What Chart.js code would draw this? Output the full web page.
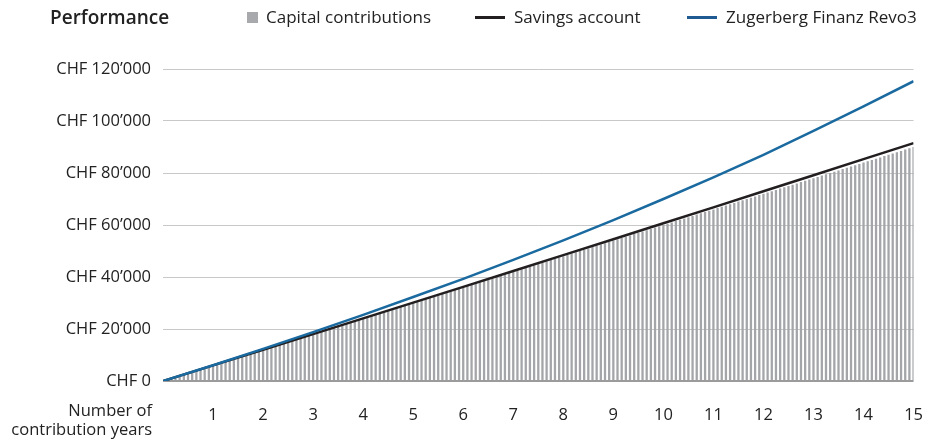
<!DOCTYPE html>
<html>
<head>
<meta charset="utf-8">
<script src="https://cdn.jsdelivr.net/npm/chart.js@4/dist/chart.umd.min.js"></script>
<style>
  html, body { margin: 0; padding: 0; background: #fff; }
  #wrap { position: relative; width: 939px; height: 440px; font-family: "Open Sans", sans-serif; color: #222; }
  #chart { position: absolute; left: 0; top: 0; }
  .hdr { position: absolute; top: 4px; font-size: 17px; white-space: nowrap; line-height: 26px; }
  .title { left: 50px; font-size: 19px; font-weight: 600; color: #222; }
  .sw { position: absolute; }
  .xtitle { position: absolute; right: 787px; top: 400px; text-align: right; font-size: 16.5px; line-height: 19px; white-space: nowrap; }
</style>
</head>
<body>
<div id="wrap">
  <canvas id="chart" width="939" height="440"></canvas>
  <div class="hdr title">Performance</div>
  <div class="sw" style="left:247px;top:12px;width:11px;height:11px;background:#a7a9ac"></div>
  <div class="hdr" style="left:266px">Capital contributions</div>
  <div class="sw" style="left:475px;top:16px;width:30px;height:3px;background:#231f20"></div>
  <div class="hdr" style="left:514px">Savings account</div>
  <div class="sw" style="left:687px;top:16px;width:30px;height:3px;background:#1f5a93"></div>
  <div class="hdr" style="left:726px">Zugerberg Finanz Revo3</div>
  <div class="xtitle">Number of<br>contribution years</div>
</div>
<script>
// Chart data (CHF)
const years = [0, 1, 2, 3, 4, 5, 6, 7, 8, 9, 10, 11, 12, 13, 14, 15];
const xTickLabels = ['1', '2', '3', '4', '5', '6', '7', '8', '9', '10', '11', '12', '13', '14', '15'];
const yTicks = [0, 20000, 40000, 60000, 80000, 100000, 120000];

// monthly capital contributions, one bar per month
const contributions = [
    500, 1000, 1500, 2000, 2500, 3000, 3500, 4000, 4500, 5000, 5500, 6000,
    6500, 7000, 7500, 8000, 8500, 9000, 9500, 10000, 10500, 11000, 11500, 12000,
    12500, 13000, 13500, 14000, 14500, 15000, 15500, 16000, 16500, 17000, 17500, 18000,
    18500, 19000, 19500, 20000, 20500, 21000, 21500, 22000, 22500, 23000, 23500, 24000,
    24500, 25000, 25500, 26000, 26500, 27000, 27500, 28000, 28500, 29000, 29500, 30000,
    30500, 31000, 31500, 32000, 32500, 33000, 33500, 34000, 34500, 35000, 35500, 36000,
    36500, 37000, 37500, 38000, 38500, 39000, 39500, 40000, 40500, 41000, 41500, 42000,
    42500, 43000, 43500, 44000, 44500, 45000, 45500, 46000, 46500, 47000, 47500, 48000,
    48500, 49000, 49500, 50000, 50500, 51000, 51500, 52000, 52500, 53000, 53500, 54000,
    54500, 55000, 55500, 56000, 56500, 57000, 57500, 58000, 58500, 59000, 59500, 60000,
    60500, 61000, 61500, 62000, 62500, 63000, 63500, 64000, 64500, 65000, 65500, 66000,
    66500, 67000, 67500, 68000, 68500, 69000, 69500, 70000, 70500, 71000, 71500, 72000,
    72500, 73000, 73500, 74000, 74500, 75000, 75500, 76000, 76500, 77000, 77500, 78000,
    78500, 79000, 79500, 80000, 80500, 81000, 81500, 82000, 82500, 83000, 83500, 84000,
    84500, 85000, 85500, 86000, 86500, 87000, 87500, 88000, 88500, 89000, 89500, 90000
];

const savingsAccount = [0, 6000, 12020, 18050, 24100, 30150, 36220, 42300, 48400,
    54520, 60650, 66800, 72960, 79140, 85320, 91500];
const revo3 = [0, 6080, 12350, 18800, 25450, 32300, 39300, 46600, 54100,
    61900, 70000, 78300, 87000, 96200, 105600, 115300];

function formatChf(v) {
    return 'CHF ' + String(v).replace(/\B(?=(\d{3})+(?!\d))/g, '\u2019');
}

const barPoints = contributions.map((v, i) => ({ x: (i + 1) / 12, y: v }));
const savingsPoints = years.map((y, i) => ({ x: y, y: savingsAccount[i] }));
const revoPoints = years.map((y, i) => ({ x: y, y: revo3[i] }));

const tickFont = { family: 'Open Sans', size: 16.5 };

new Chart(document.getElementById('chart'), {
    data: {
        datasets: [
            {
                type: 'line',
                label: 'Zugerberg Finanz Revo3',
                data: revoPoints,
                borderColor: '#1a6aa0',
                borderWidth: 2.5,
                pointRadius: 0,
                tension: 0,
                order: 0
            },
            {
                type: 'line',
                label: 'Savings account',
                data: savingsPoints,
                borderColor: '#231f20',
                borderWidth: 2.5,
                pointRadius: 0,
                tension: 0,
                order: 1
            },
            {
                type: 'bar',
                label: 'Capital contributions',
                data: barPoints,
                backgroundColor: '#a3a5a8',
                barPercentage: 0.55,
                categoryPercentage: 1,
                grouped: false,
                order: 2
            }
        ]
    },
    options: {
        responsive: false,
        animation: false,
        layout: { padding: { top: 69, right: 18, left: 0, bottom: 0 } },
        plugins: { legend: { display: false }, tooltip: { enabled: false } },
        scales: {
            x: {
                type: 'linear',
                min: 0,
                max: 15,
                offset: false,
                grid: { display: false },
                border: { display: false },
                ticks: {
                    stepSize: 1,
                    autoSkip: false,
                    maxRotation: 0,
                    padding: 16,
                    color: '#222',
                    font: tickFont,
                    callback: v => v === 0 ? '' : xTickLabels[v - 1]
                },
                afterFit: scale => { scale.height = 59; }
            },
            y: {
                min: 0,
                max: 120000,
                border: { display: false },
                grid: {
                    drawTicks: false,
                    color: ctx => ctx.tick && ctx.tick.value === 0 ? '#9b9b9b' : '#c8c8c8',
                    lineWidth: ctx => ctx.tick && ctx.tick.value === 0 ? 2 : 1
                },
                afterBuildTicks: scale => { scale.ticks = yTicks.map(v => ({ value: v })); },
                ticks: {
                    padding: 12,
                    color: '#222',
                    font: tickFont,
                    callback: v => formatChf(v)
                },
                afterFit: scale => { scale.width = 163; }
            }
        }
    }
});
</script>
</body>
</html>
